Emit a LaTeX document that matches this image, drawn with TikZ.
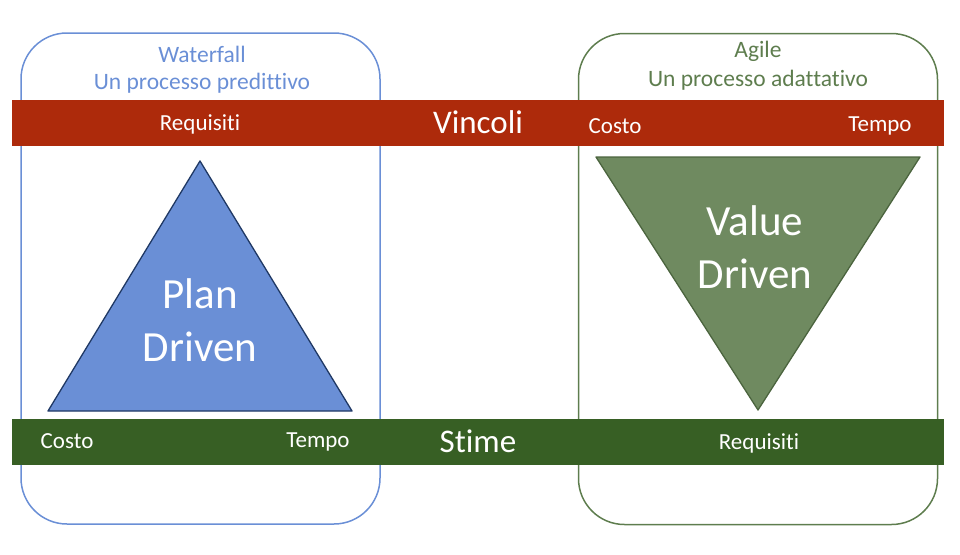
\documentclass[tikz,border=0pt]{standalone}
\usepackage{fontspec}
\setmainfont[Ligatures=NoCommon]{Carlito}
\definecolor{wfblue}{HTML}{6A8FD6}
\definecolor{agreen}{HTML}{6F8A60}
\definecolor{agline}{HTML}{5E7D4E}
\definecolor{vincred}{HTML}{AD2A0B}
\definecolor{stimegreen}{HTML}{375F24}
\definecolor{navy}{HTML}{1F3864}
\begin{document}
\begin{tikzpicture}[x=1pt,y=-1pt,
    procbox/.style={rounded corners=46pt,line width=1.5pt,minimum width=359pt,minimum height=491pt,inner sep=0pt},
    band/.style={minimum width=932pt,minimum height=46pt,inner sep=0pt},
    head/.style={font=\fontsize{23.5}{28}\selectfont,align=center},
    small/.style={text=white,font=\fontsize{23}{26}\selectfont},
    big/.style={text=white,font=\fontsize{33}{36}\selectfont},
    huge/.style={text=white,font=\fontsize{43}{53}\selectfont,align=center}]
  \useasboundingbox (0,0) rectangle (960,554);
  \node[procbox,draw=wfblue] (wf) at (200.5,278.5) {};
  \node[procbox,draw=agline] (ag) at (758,279) {};
  \node[band,fill=vincred] (vinc) at (478,123) {};
  \node[band,fill=stimegreen] (stime) at (478,442) {};
  \draw
    (202,69.5) node[head,text=wfblue,font=\fontsize{23.5}{27}\selectfont] (wfhead) {Waterfall\\Un processo predittivo}
    (758,65.5) node[head,text=agline,font=\fontsize{23.5}{29}\selectfont] (aghead) {Agile\\Un processo adattativo}
    (200,124) node[small] (vreq) {Requisiti}
    (478,122) node[big] (vlab) {Vincoli}
    (615,126) node[small] (vcost) {Costo}
    (880,126) node[small] (vtime) {Tempo}
    (67,441) node[small] (scost) {Costo}
    (318,442) node[small] (stime2) {Tempo}
    (478,441) node[big] (slab) {Stime}
    (759,443) node[small] (sreq) {Requisiti};
  \coordinate (pa) at (200,161);
  \coordinate (pb) at (48,411);
  \coordinate (pc) at (352,411);
  \coordinate (va) at (596,157);
  \coordinate (vb) at (920,157);
  \coordinate (vc) at (758,410);
  \draw[fill=wfblue,draw=navy,line width=1.3pt,line join=round] (pa) -- (pb) -- (pc) -- cycle;
  \draw[fill=agreen,draw=agline!80!black,line width=1.3pt,line join=round] (va) -- (vb) -- (vc) -- cycle;
  \node[huge] (plan) at (200,320) {Plan\\Driven};
  \node[huge] (value) at (755,247) {Value\\Driven};
\end{tikzpicture}
\end{document}
